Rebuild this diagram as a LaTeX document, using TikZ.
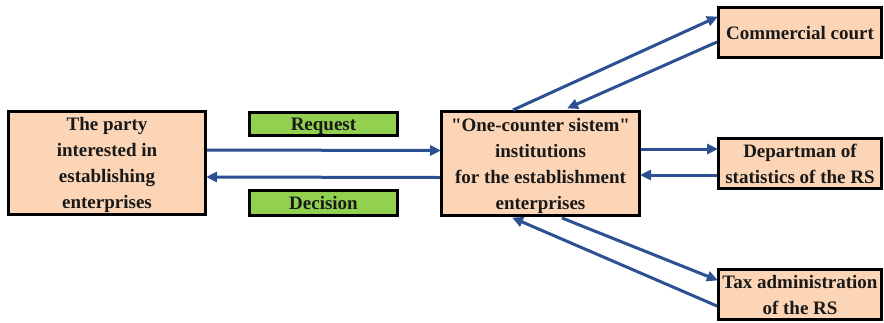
\documentclass[tikz,border=0pt]{standalone}
\usepackage{fontspec}
\setmainfont{Liberation Serif}
\usetikzlibrary{arrows.meta,calc}
\definecolor{peach}{HTML}{FBD5B5}
\definecolor{leaf}{HTML}{92D050}
\definecolor{flow}{HTML}{2C5091}
\tikzset{
  unit/.style={draw=black, line width=3pt, fill=peach, align=center, inner sep=0pt,
    text depth=0pt, font=\fontsize{19}{26}\selectfont\bfseries, text=black!90},
  tag/.style={draw=black, line width=3pt, fill=leaf, align=center, inner sep=0pt,
    text depth=0pt, font=\fontsize{19}{22}\selectfont\bfseries, text=black!90},
  arr/.style={draw=flow, line width=3pt, -{Triangle[length=11pt,width=10pt]}, shorten >=-1pt}
}
\begin{document}
\begin{tikzpicture}[x=1pt,y=-1pt]
\useasboundingbox (0,0) rectangle (884,322);
% main boxes
\node[unit, minimum width=197pt, minimum height=103pt] (party) at (107,163)
  {The party\\interested in\\establishing\\enterprises};
\node[unit, minimum width=198pt, minimum height=104pt] (osc) at (540.5,163.5)
  {\textquotedbl One-counter sistem\textquotedbl\\institutions\\for the establishment\\enterprises};
\node[unit, minimum width=163pt, minimum height=50pt] (court) at (800,32.5)
  {Commercial court};
\node[unit, minimum width=163pt, minimum height=50pt] (stat) at (800,163.5)
  {Departman of\\statistics of the RS};
\node[unit, minimum width=163pt, minimum height=50pt] (tax) at (800,294.5)
  {Tax administration\\of the RS};
% labels on the exchange arrows
\node[tag, minimum width=148pt, minimum height=23pt] (req) at (323.5,124) {Request};
\node[tag, minimum width=148pt, minimum height=25pt] (dec) at (323.5,203) {Decision};
% party <-> one-counter system
\draw[arr] ([yshift=13pt]party.east) -- ([yshift=13pt]osc.west);
\draw[arr] ([yshift=-14pt]osc.west) -- ([yshift=-14pt]party.east);
% one-counter system <-> commercial court
\draw[arr] ([xshift=73pt]osc.north west) -- ([yshift=15.5pt]court.west);
\draw[arr] ([yshift=-9.5pt]court.west) -- ([xshift=128pt,yshift=2pt]osc.north west);
% one-counter system <-> statistics
\draw[arr] ([yshift=14.5pt]osc.east) -- ([yshift=14.5pt]stat.west);
\draw[arr] ([yshift=-11.5pt]stat.west) -- ([yshift=-11.5pt]osc.east);
% one-counter system <-> tax administration
\draw[arr] ([xshift=122pt,yshift=-1pt]osc.south west) -- ([yshift=14.5pt]tax.west);
\draw[arr] ([yshift=-11.5pt]tax.west) -- ([xshift=73pt,yshift=-1pt]osc.south west);
\end{tikzpicture}
\end{document}
